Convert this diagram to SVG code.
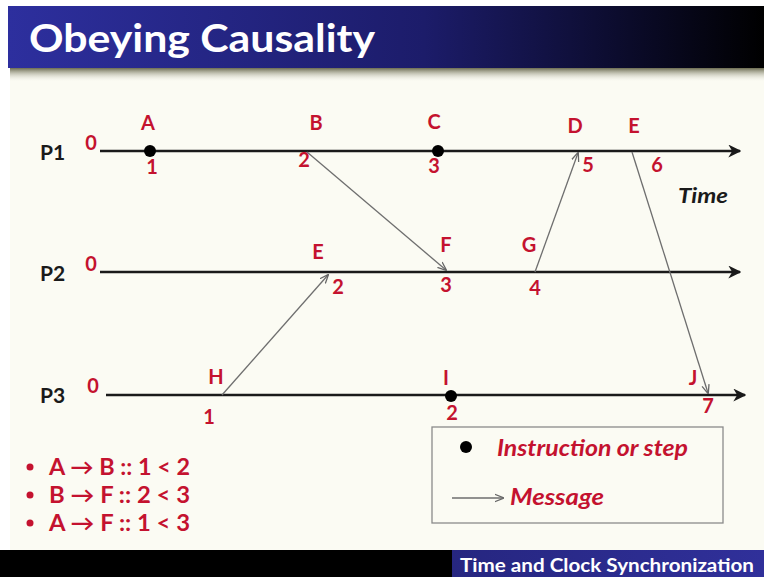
<svg xmlns="http://www.w3.org/2000/svg" width="764" height="577" viewBox="0 0 764 577">
  <defs>
    <linearGradient id="titleGrad" x1="0" y1="0" x2="1" y2="0">
      <stop offset="0" stop-color="#2d2f9e"/>
      <stop offset="0.55" stop-color="#1c1c6a"/>
      <stop offset="1" stop-color="#000000"/>
    </linearGradient>
    <linearGradient id="shadowGrad" x1="0" y1="0" x2="0" y2="1">
      <stop offset="0" stop-color="#6b6b50"/>
      <stop offset="1" stop-color="#fbfbf2" stop-opacity="0"/>
    </linearGradient>
    <linearGradient id="footGrad" x1="0" y1="0" x2="1" y2="0">
      <stop offset="0" stop-color="#262680"/>
      <stop offset="1" stop-color="#30309a"/>
    </linearGradient>
    <marker id="timeHead" viewBox="0 0 10 10" refX="9" refY="5" markerWidth="5" markerHeight="5" orient="auto" markerUnits="strokeWidth">
      <path d="M0,0 L10,5 L0,10 L3,5 Z" fill="#1a1a1a"/>
    </marker>
    <marker id="msgHead" viewBox="0 0 10 10" refX="9" refY="5" markerWidth="7" markerHeight="7" orient="auto" markerUnits="strokeWidth">
      <path d="M0,1 L10,5 L0,9" fill="none" stroke="#666" stroke-width="1.4"/>
    </marker>
  </defs>
  <style>
    .lbl { font-family: Lato, "Open Sans", "Liberation Sans", sans-serif; font-weight: bold; fill: #c4122f; font-size: 20px; text-anchor: middle; }
    .proc { font-family: Lato, "Open Sans", "Liberation Sans", sans-serif; font-weight: bold; fill: #1a1a1a; font-size: 21px; }
    .timeline { stroke: #1a1a1a; stroke-width: 2.6; fill: none; marker-end: url(#timeHead); }
    .msg { stroke: #6e6e6e; stroke-width: 1.3; fill: none; marker-end: url(#msgHead); }
    .step { fill: #000; }
    .note { font-family: Lato, "Open Sans", "Liberation Sans", sans-serif; font-weight: bold; fill: #c4122f; font-size: 22px; }
    .bullet { fill: #c4122f; }
    .legend { font-family: Lato, "Open Sans", "Liberation Sans", sans-serif; font-weight: bold; font-style: italic; fill: #c4122f; font-size: 23px; }
  </style>

  <!-- page -->
  <rect x="0" y="0" width="764" height="577" fill="#ffffff"/>
  <rect x="10" y="68" width="754" height="482" fill="#fbfbf3"/>
  <rect x="10" y="68" width="754" height="14" fill="url(#shadowGrad)"/>

  <!-- title bar -->
  <rect x="8" y="6" width="756" height="62" fill="url(#titleGrad)"/>
  <text x="29" y="52" font-family="Lato, 'Open Sans', 'Liberation Sans', sans-serif" font-weight="bold" font-size="39" fill="#ffffff" textLength="346" lengthAdjust="spacingAndGlyphs">Obeying Causality</text>

  <!-- process timelines -->
  <g id="p1">
    <text class="proc" x="40" y="160">P1</text>
    <text class="lbl" x="91" y="150">0</text>
    <line class="timeline" x1="100" y1="151" x2="740" y2="151"/>
  </g>
  <g id="p2">
    <text class="proc" x="40" y="281">P2</text>
    <text class="lbl" x="91" y="271">0</text>
    <line class="timeline" x1="100" y1="272" x2="740" y2="272"/>
  </g>
  <g id="p3">
    <text class="proc" x="40" y="403">P3</text>
    <text class="lbl" x="93" y="393">0</text>
    <line class="timeline" x1="106" y1="395" x2="745" y2="395"/>
  </g>
  <text x="678" y="203" font-family="Lato, 'Open Sans', 'Liberation Sans', sans-serif" font-weight="bold" font-style="italic" font-size="21" fill="#1a1a1a" textLength="50" lengthAdjust="spacingAndGlyphs">Time</text>

  <!-- events on P1 -->
  <g id="evA">
    <circle class="step" cx="150" cy="151" r="6"/>
    <text class="lbl" x="148" y="130">A</text>
    <text class="lbl" x="152" y="174">1</text>
  </g>
  <g id="evB">
    <text class="lbl" x="316" y="130">B</text>
    <text class="lbl" x="304" y="167">2</text>
  </g>
  <g id="evC">
    <circle class="step" cx="438" cy="151" r="6"/>
    <text class="lbl" x="434" y="129">C</text>
    <text class="lbl" x="434" y="173">3</text>
  </g>
  <g id="evD">
    <text class="lbl" x="575" y="133">D</text>
    <text class="lbl" x="588" y="172">5</text>
  </g>
  <g id="evE1">
    <text class="lbl" x="634" y="133">E</text>
    <text class="lbl" x="657" y="172">6</text>
  </g>

  <!-- events on P2 -->
  <g id="evE2">
    <text class="lbl" x="318" y="259">E</text>
    <text class="lbl" x="338" y="294">2</text>
  </g>
  <g id="evF">
    <text class="lbl" x="446" y="252">F</text>
    <text class="lbl" x="446" y="292">3</text>
  </g>
  <g id="evG">
    <text class="lbl" x="529" y="252">G</text>
    <text class="lbl" x="535" y="295">4</text>
  </g>

  <!-- events on P3 -->
  <g id="evH">
    <text class="lbl" x="216" y="384">H</text>
    <text class="lbl" x="209" y="424">1</text>
  </g>
  <g id="evI">
    <circle class="step" cx="451" cy="396" r="6"/>
    <text class="lbl" x="446" y="385">I</text>
    <text class="lbl" x="452" y="420">2</text>
  </g>
  <g id="evJ">
    <text class="lbl" x="693" y="385">J</text>
    <text class="lbl" x="708" y="413">7</text>
  </g>

  <!-- messages -->
  <g id="messages">
    <line class="msg" x1="307" y1="152" x2="446" y2="270"/>
    <line class="msg" x1="222" y1="395" x2="328" y2="275"/>
    <line class="msg" x1="535" y1="272" x2="578" y2="153"/>
    <line class="msg" x1="632" y1="152" x2="708" y2="393"/>
  </g>

  <!-- causality notes -->
  <g id="notes">
    <circle class="bullet" cx="30" cy="467" r="3.5"/>
    <text class="note" x="49" y="475" textLength="141" lengthAdjust="spacingAndGlyphs">A → B :: 1 &lt; 2</text>
    <circle class="bullet" cx="30" cy="495" r="3.5"/>
    <text class="note" x="49" y="503" textLength="141" lengthAdjust="spacingAndGlyphs">B → F :: 2 &lt; 3</text>
    <circle class="bullet" cx="30" cy="523" r="3.5"/>
    <text class="note" x="49" y="531" textLength="141" lengthAdjust="spacingAndGlyphs">A → F :: 1 &lt; 3</text>
  </g>

  <!-- legend -->
  <g id="legend">
    <rect x="432" y="427" width="291" height="96" fill="#fbfbf3" stroke="#8a8a8a" stroke-width="1.3"/>
    <circle class="step" cx="466" cy="447" r="6"/>
    <text class="legend" x="497" y="456" textLength="191" lengthAdjust="spacingAndGlyphs">Instruction or step</text>
    <line class="msg" x1="452" y1="498" x2="503" y2="498"/>
    <text class="legend" x="510" y="505" textLength="94" lengthAdjust="spacingAndGlyphs">Message</text>
  </g>

  <!-- footer -->
  <rect x="0" y="550" width="764" height="27" fill="#000000"/>
  <rect x="452" y="550" width="312" height="27" fill="url(#footGrad)"/>
  <text x="460" y="572" font-family="Lato, 'Open Sans', 'Liberation Sans', sans-serif" font-weight="bold" font-size="19" fill="#ffffff" textLength="294" lengthAdjust="spacingAndGlyphs">Time and Clock Synchronization</text>
</svg>
